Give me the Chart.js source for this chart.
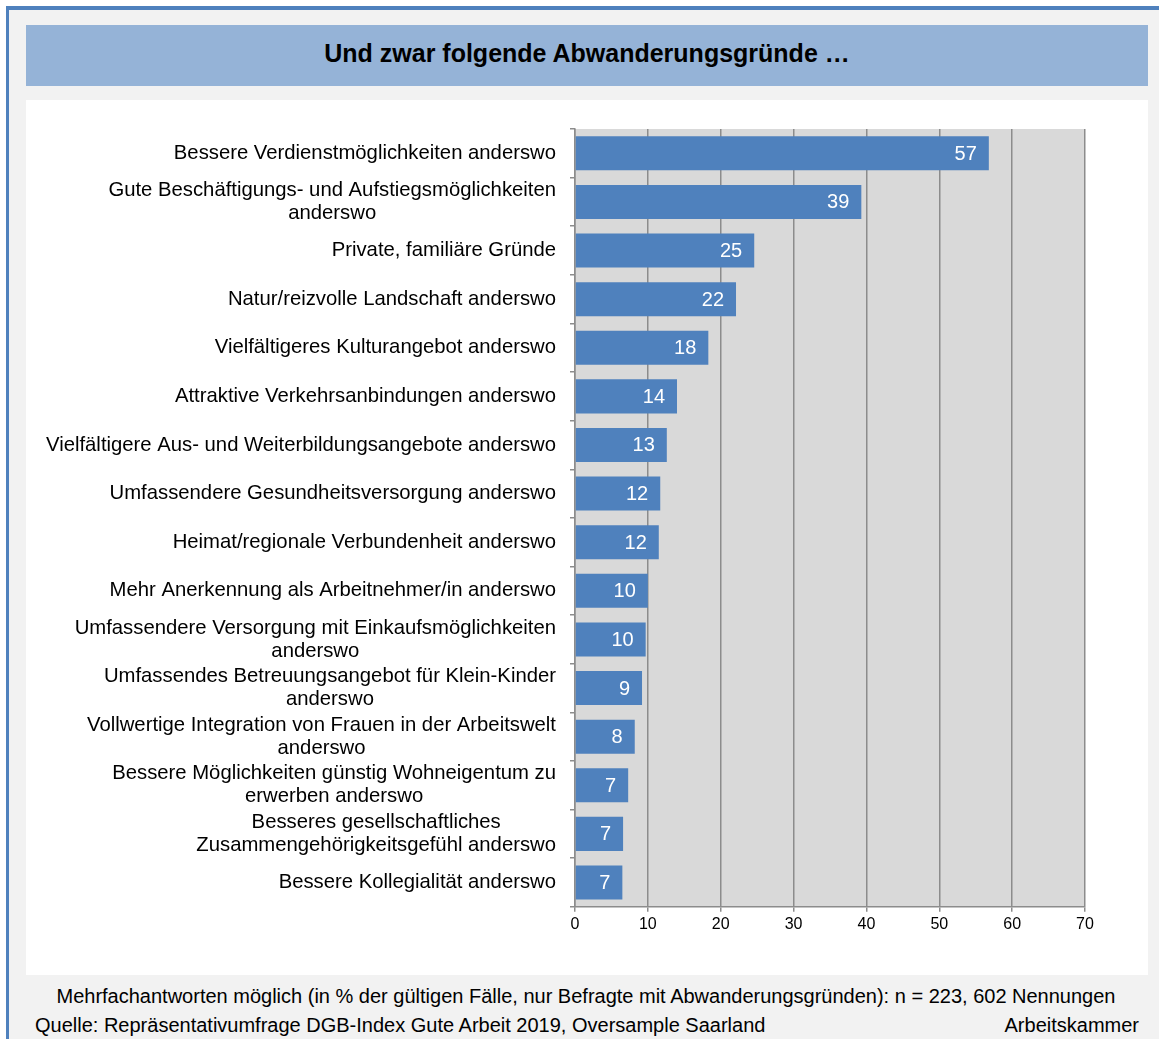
<!DOCTYPE html>
<html lang="de">
<head>
  <meta charset="utf-8" />
  <title>Abwanderungsgründe</title>
  <style>
    body {
      margin: 0;
      background: #ffffff;
      font-family: 'Liberation Sans', Arial, sans-serif;
      color: #000;
    }
    .frame {
      position: absolute;
      left: 6px;
      top: 6px;
      width: 1153px;
      height: 1033px;
      background: #f2f2f2;
      border-left: 3px solid #4f81bd;
      border-top: 4px solid #4f81bd;
      box-sizing: border-box;
    }
    .banner {
      position: absolute;
      left: 26px;
      top: 25px;
      width: 1122px;
      height: 61px;
      padding-bottom: 5px;
      box-sizing: border-box;
      background: #95b3d7;
      display: flex;
      align-items: center;
      justify-content: center;
      font-weight: bold;
      font-size: 25px;
    }
    .chart-box {
      position: absolute;
      left: 26px;
      top: 100px;
      width: 1122px;
      height: 875px;
      background: #ffffff;
    }
    .note {
      position: absolute;
      font-size: 20px;
      line-height: 23px;
      white-space: nowrap;
    }
  </style>
</head>
<body>
  <div class="frame"></div>
  <div class="banner">Und zwar folgende Abwanderungsgründe …</div>
  <div class="chart-box"><canvas id="chart"></canvas></div>
  <div class="note" style="left:0; width:1172px; text-align:center; top:985px;">Mehrfachantworten möglich (in % der gültigen Fälle, nur Befragte mit Abwanderungsgründen): n = 223, 602 Nennungen</div>
  <div class="note" style="left:35px; top:1014px;">Quelle: Repräsentativumfrage DGB-Index Gute Arbeit 2019, Oversample Saarland</div>
  <div class="note" style="right:20px; top:1014px;">Arbeitskammer</div>

  <script src="https://cdn.jsdelivr.net/npm/chart.js"></script>
  <script>
    const reasons = [
      ['Bessere Verdienstmöglichkeiten anderswo'],
      ['Gute Beschäftigungs- und Aufstiegsmöglichkeiten', 'anderswo'],
      ['Private, familiäre Gründe'],
      ['Natur/reizvolle Landschaft anderswo'],
      ['Vielfältigeres Kulturangebot anderswo'],
      ['Attraktive Verkehrsanbindungen anderswo'],
      ['Vielfältigere Aus- und Weiterbildungsangebote anderswo'],
      ['Umfassendere Gesundheitsversorgung anderswo'],
      ['Heimat/regionale Verbundenheit anderswo'],
      ['Mehr Anerkennung als Arbeitnehmer/in anderswo'],
      ['Umfassendere Versorgung mit Einkaufsmöglichkeiten', 'anderswo'],
      ['Umfassendes Betreuungsangebot für Klein-Kinder', 'anderswo'],
      ['Vollwertige Integration von Frauen in der Arbeitswelt', 'anderswo'],
      ['Bessere Möglichkeiten günstig Wohneigentum zu', 'erwerben anderswo'],
      ['Besseres gesellschaftliches', 'Zusammengehörigkeitsgefühl anderswo'],
      ['Bessere Kollegialität anderswo']
    ];
    // percent of valid cases
    const shares = [56.8, 39.3, 24.6, 22.1, 18.3, 14.0, 12.6, 11.7, 11.5, 10.0, 9.7, 9.2, 8.2, 7.3, 6.6, 6.5];
    const xTicks = [0, 10, 20, 30, 40, 50, 60, 70];

    const FONT = "'Liberation Sans', Arial, sans-serif";

    // grey plot background
    const plotBg = {
      id: 'plotBg',
      beforeDraw(chart) {
        const { ctx, chartArea: a } = chart;
        ctx.save();
        ctx.fillStyle = '#d9d9d9';
        ctx.fillRect(a.left, a.top, a.right - a.left, a.bottom - a.top);
        ctx.restore();
      }
    };

    // category labels: block right-aligned, lines centred inside the block
    const catLabels = {
      id: 'catLabels',
      afterDraw(chart) {
        const { ctx } = chart;
        const y = chart.scales.y;
        const right = chart.chartArea.left - 19;
        const lh = 23;
        ctx.save();
        ctx.font = '20.3px ' + FONT;
        ctx.fillStyle = '#000';
        ctx.textBaseline = 'middle';
        ctx.textAlign = 'center';
        reasons.forEach((lines, i) => {
          const w = Math.max(...lines.map(l => ctx.measureText(l).width));
          const cx = right - w / 2;
          const cy = y.getPixelForTick(i);
          lines.forEach((l, j) => {
            ctx.fillText(l, cx, cy + (j - (lines.length - 1) / 2) * lh);
          });
        });
        ctx.restore();
      }
    };

    // value labels inside the bar ends
    const valueLabels = {
      id: 'valueLabels',
      afterDatasetsDraw(chart) {
        const { ctx } = chart;
        const meta = chart.getDatasetMeta(0);
        ctx.save();
        ctx.font = '20px ' + FONT;
        ctx.fillStyle = '#ffffff';
        ctx.textAlign = 'right';
        ctx.textBaseline = 'middle';
        meta.data.forEach((bar, i) => {
          ctx.fillText(String(Math.round(shares[i])), bar.x - 12, bar.y + 1);
        });
        ctx.restore();
      }
    };

    new Chart(document.getElementById('chart'), {
      type: 'bar',
      data: {
        labels: reasons.map(r => r.join(' ')),
        datasets: [{
          data: shares,
          backgroundColor: '#4f81bd',
          borderWidth: 0,
          barPercentage: 0.7,
          categoryPercentage: 1
        }]
      },
      options: {
        indexAxis: 'y',
        responsive: true,
        maintainAspectRatio: false,
        animation: false,
        layout: { padding: { left: 0, right: 63, top: 29, bottom: 38 } },
        plugins: {
          legend: { display: false },
          tooltip: { enabled: false }
        },
        scales: {
          x: {
            min: 0,
            max: 70,
            afterBuildTicks(s) { s.ticks = xTicks.map(v => ({ value: v })); },
            ticks: { color: '#000', font: { family: FONT, size: 16 }, padding: 3 },
            grid: { color: '#8c8c8c', lineWidth: 1.5, tickLength: 5 },
            border: { color: '#8c8c8c', width: 1.5 }
          },
          y: {
            afterFit(s) { s.width = 549; },
            ticks: { display: false },
            grid: { offset: true, drawOnChartArea: false, tickLength: 5, color: '#8c8c8c', lineWidth: 1.5 },
            border: { color: '#8c8c8c', width: 1.5 }
          }
        }
      },
      plugins: [plotBg, catLabels, valueLabels]
    });
  </script>
</body>
</html>
